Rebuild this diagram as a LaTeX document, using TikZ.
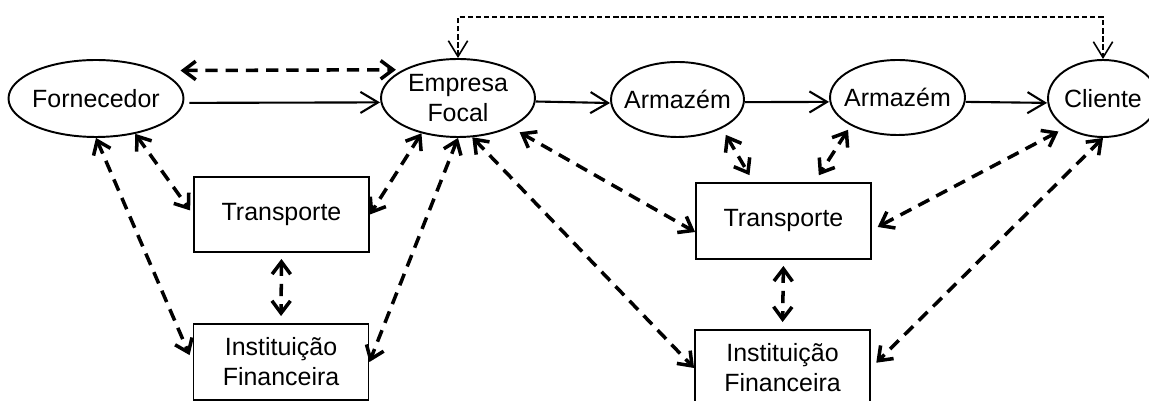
\documentclass[tikz,border=0pt]{standalone}
\usepackage{fontspec}
\setmainfont{Liberation Sans}
\usetikzlibrary{arrows.meta,shapes.geometric}
\begin{document}
\begin{tikzpicture}[x=0.02cm,y=-0.02cm,
  every node/.style={font=\fontsize{14.2}{17}\selectfont,align=center},
  elo/.style={draw,ellipse,line width=1.1pt,inner xsep=-0.2cm,inner ysep=0pt,minimum height=1.54cm},
  apoio/.style={draw,rectangle,line width=1.1pt,inner sep=0pt,minimum width=3.5cm,minimum height=1.52cm},
  fluxo/.style={line width=1.2pt,-{Straight Barb[length=10pt,width=12pt]}},
  troca/.style={line width=2pt,dash pattern=on 7pt off 4.5pt,
    {Straight Barb[length=7pt,width=10.5pt]}-{Straight Barb[length=7pt,width=10.5pt]}},
  aviso/.style={line width=0.9pt,dash pattern=on 3pt off 1.6pt,
    {Straight Barb[length=9pt,width=11pt]}-{Straight Barb[length=9pt,width=11pt]}}]
\useasboundingbox (0,0) rectangle (1149,401);
% cadeia principal
\node[elo,minimum width=3.5cm] (forn) at (96,98.5) {Fornecedor};
\node[elo,minimum width=3.08cm,minimum height=1.56cm] (emp) at (458,98) {Empresa\\Focal};
\node[elo,minimum width=2.66cm,minimum height=1.5cm] (arm1) at (677.5,99.5) {Armazém};
\node[elo,minimum width=2.7cm,minimum height=1.5cm] (arm2) at (897.5,97.5) {Armazém};
\node[elo,minimum width=2.2cm] (cli) at (1103,98.5) {Cliente};
% apoio
\node[apoio,minimum height=1.5cm] (trans1) at (281.5,214.5) {Transporte};
\node[apoio] (inst1) at (281,362) {Instituição\\Financeira};
\node[apoio] (trans2) at (783.5,221) {Transporte};
\node[apoio] (inst2) at (782.5,368) {Instituição\\Financeira};
\coordinate (topo) at (780,17);
% fluxo de materiais
\draw[fluxo,shorten <=0.1cm] ([yshift=-2.5pt]forn.east) -- ([yshift=-2.5pt]emp.west);
\draw[fluxo] ([yshift=-2pt]emp.east) -- ([yshift=-2pt]arm1.west);
\draw[fluxo] ([yshift=-1.5pt]arm1.east) -- ([yshift=-2.5pt]arm2.west);
\draw[fluxo] ([yshift=-2.5pt]arm2.east) -- ([yshift=-2.5pt]cli.west);
\draw[aviso] (emp.north) |- (topo) -| (cli.north);
% trocas
\draw[troca,shorten <=0.44cm,shorten >=0.14cm] (forn.north east) -- (emp.north west);
\draw[troca,shorten >=0.15cm] (forn.south) -- (inst1.west);
\draw[troca,shorten >=0.1cm] (forn.-42) -- (trans1.west);
\draw[troca] (emp.-136) -- (trans1.east);
\draw[troca] (emp.south) -- (inst1.east);
\draw[troca,shorten <=0.2cm] (emp.-29) -- ([yshift=-0.22cm]trans2.west);
\draw[troca] (emp.-70) -- (inst2.west);
\draw[troca,shorten <=0.12cm,shorten >=0.14cm] (trans1.south) -- (inst1.north);
\draw[troca,shorten <=0.15cm,shorten >=0.16cm] (arm1.-33) -- ([xshift=-0.6cm]trans2.north);
\draw[troca,shorten <=0.1cm,shorten >=0.16cm] (arm2.-149) -- ([xshift=0.62cm]trans2.north);
\draw[troca,shorten <=0.16cm,shorten >=0.13cm] (cli.-142) -- ([yshift=-0.18cm]trans2.east);
\draw[troca,shorten >=0.15cm] (cli.south) -- (inst2.east);
\draw[troca,shorten <=0.12cm,shorten >=0.14cm] (trans2.south) -- (inst2.north);
\end{tikzpicture}
\end{document}
